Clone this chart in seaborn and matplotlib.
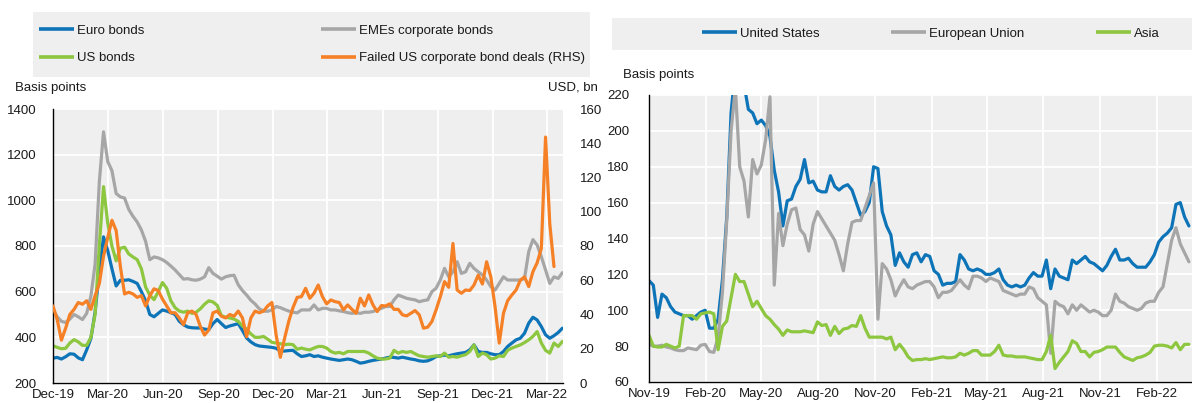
import numpy as np
import pandas as pd
import matplotlib
matplotlib.use("Agg")
import matplotlib.pyplot as plt
import matplotlib.dates as mdates
from matplotlib.lines import Line2D
from matplotlib.patches import Rectangle
import seaborn as sns

sns.set_theme(style="white")
plt.rcParams["font.family"] = ["Liberation Sans", "DejaVu Sans"]

# ---------------- Left panel: weekly spreads (bp) and failed deals (USD bn) ----------------
left_start = "2019-12-01"

euro_bonds = [
    309, 312, 305, 315, 328, 326, 310, 302, 345, 395,
    510, 690, 840, 780, 700, 625, 650, 650, 652, 645,
    636, 600, 560, 500, 490, 505, 520, 515, 508, 500,
    470, 455, 445, 442, 441, 441, 436, 434, 460, 478,
    460, 443, 450, 455, 460, 430, 397, 380, 368, 362,
    360, 358, 356, 352, 340, 340, 342, 343, 328,
    316, 319, 324, 316, 319, 313, 309, 305, 302, 299,
    302, 305, 302, 295, 287, 290, 295, 299, 302, 305,
    309, 313, 312, 309, 313, 309, 305, 302, 297, 295,
    297, 305, 316, 319, 322, 319, 324, 328, 331, 334,
    345, 367, 338, 334, 334, 328, 324, 324, 338, 360,
    375, 389, 396, 418, 462, 488, 476, 447, 411, 396,
    407, 421, 440,
]

eme_corporate_bonds = [
    521, 490, 470, 465, 480, 500, 490, 478, 505, 580,
    720, 1080, 1300, 1170, 1130, 1030, 1015, 1010, 960, 930,
    905, 870, 820, 740, 752, 748, 740, 728, 712, 695,
    675, 655, 657, 652, 650, 655, 665, 705, 680, 668,
    655, 665, 670, 672, 630, 605, 585, 562, 546, 525,
    515, 514, 520, 535, 530, 522, 515, 510, 507,
    520, 520, 520, 542, 520, 527, 527, 520, 520, 516,
    513, 508, 505, 508, 505, 510, 510, 513, 520, 527,
    535, 535, 564, 585, 578, 571, 567, 564, 556, 561,
    564, 600, 615, 651, 702, 665, 687, 731, 680, 687,
    724, 702, 687, 673, 651, 622, 607, 636, 665, 651,
    651, 651, 651, 658, 775, 828, 804, 753, 695, 636,
    665, 658, 683,
]

us_bonds = [
    363, 356, 350, 352, 375, 390, 380, 365, 365, 400,
    500, 800, 1060, 900, 800, 735, 790, 795, 765, 752,
    740, 700, 620, 585, 565, 600, 640, 615, 560, 530,
    515, 510, 515, 505, 510, 525, 545, 560, 555, 540,
    495, 488, 485, 480, 470, 450, 435, 415, 400, 400,
    404, 392, 378, 375, 372, 368, 370, 368, 348,
    353, 348, 345, 353, 360, 360, 353, 338, 331, 334,
    328, 338, 338, 338, 338, 338, 331, 319, 309, 305,
    305, 309, 343, 331, 338, 334, 338, 328, 319, 316,
    313, 316, 319, 316, 331, 313, 316, 313, 319, 324,
    338, 367, 316, 331, 324, 305, 309, 319, 316, 343,
    353, 360, 367, 377, 389, 404, 425, 375, 343, 331,
    375, 360, 382,
]

failed_us_deals = [
    45, 37, 25, 32, 40, 43, 47, 46, 48, 43,
    51, 58, 74, 85, 95, 89, 68, 52, 53, 52,
    50, 51, 45, 51, 55, 54, 49, 45, 41, 41,
    38, 34, 41, 42, 40, 33, 28, 31, 41, 42,
    39, 38, 40, 39, 42, 38, 27, 38, 42, 41,
    42, 45, 47, 28, 15, 26, 36, 44, 50,
    50.4, 55.3, 49.5, 52.4, 57.2, 50.4, 46.2, 48.5, 47.5, 47,
    42.7, 45.6, 43, 40.7, 49.5, 45, 51.4, 45.6, 41.7, 45.2,
    45, 46.2, 43, 43, 39.8, 39.2, 40.7, 42.3, 39.8, 32,
    32.6, 35.9, 42.7, 50.4, 59.2, 55.9, 81.5, 54.3, 52.4, 54.3,
    54, 57.2, 63, 57.8, 70.8, 62, 44.6, 23.3, 40.7, 48.1,
    51.4, 54.3, 60, 62, 56.3, 65, 70.2, 78.6, 143.6, 93,
    68, np.nan, np.nan,
]

left_labels = ["Euro bonds", "EMEs corporate bonds", "US bonds",
               "Failed US corporate bond deals (RHS)"]

# ---------------- Right panel: weekly spreads by region (bp) ----------------
right_start = "2019-11-01"

united_states = [
    116.5, 114, 96, 109, 107, 102, 99, 98, 97, 97,
    95, 97, 99, 100, 90, 90, 95, 117, 152, 210,
    235, 240, 226, 212, 210, 204, 206, 203, 197, 178,
    166, 147, 161, 162, 169, 173, 184, 171, 172, 167,
    166, 166, 175, 169, 167, 169, 170, 167, 160, 153,
    155, 160, 180, 179, 155, 147, 142, 125, 132, 127,
    124, 131, 132, 127, 131, 130, 122, 120, 114, 115,
    115, 116, 131, 128, 123, 122, 123, 122, 120, 120,
    121, 123, 117, 114, 113, 114, 113, 114, 118, 121,
    119, 119, 128, 112, 123, 119, 118, 117, 128, 126,
    128, 130, 127, 126, 124, 122, 125, 130, 134, 128,
    128, 129, 126, 124, 124, 124, 127, 131, 138, 141,
    143, 146, 159, 160, 152, 147,
]

european_union = [
    81, 80, 80, 80.5, 79.5, 79, 78, 77.5, 77.5, 79,
    78.5, 78, 80.5, 81, 77, 76.5, 85, 110, 150, 200,
    224, 180, 172, 152, 184, 176, 181, 195, 219, 114,
    154, 136, 148, 156, 157, 145, 142, 133, 148, 155,
    151, 147, 143, 139, 131, 122, 137, 149, 150, 150,
    157, 164, 171, 95, 126, 123, 117, 108, 113, 117,
    113, 112, 114, 115, 116, 116, 113, 107, 110, 110,
    111, 114, 117, 114, 112, 119, 119, 118, 116, 118,
    117, 116, 111, 110, 109, 108, 109, 109, 113, 112,
    107, 105, 103, 76, 105, 103, 102, 98, 103, 100,
    103, 101, 99, 100, 99, 97, 97, 100, 109, 105,
    104, 102, 101, 100, 101, 104, 105, 105, 110, 113,
    126, 139, 146, 137, 132, 127,
]

asia = [
    86, 80, 79.5, 79.5, 81, 80, 79, 80, 97, 97,
    97, 95, 98, 98.5, 99, 98, 78, 91, 94, 107,
    120, 116, 116, 109, 102, 105, 101, 97, 95, 92,
    89.5, 86, 89, 88, 88, 88, 88.5, 88, 87.5, 93.5,
    91.5, 92, 86, 91, 87, 89.5, 90, 91.5, 91, 97,
    90, 85, 85, 85, 85, 84, 85, 78, 81, 78,
    74, 72, 72.5, 72.5, 73, 72.5, 73, 73.5, 74, 73.5,
    73.5, 74, 76, 75, 76, 77.5, 77.5, 75, 75, 75,
    77, 80.5, 75, 74.5, 74.5, 74, 74, 74, 73.5, 73,
    72.5, 72.5, 77, 86, 67.5, 71, 74, 77, 83, 81.5,
    77, 77, 74, 76.5, 77, 78, 79.5, 79.5, 79.5, 76.5,
    74, 73, 72, 73.5, 74, 75, 76.5, 80, 80.5, 80.5,
    80, 79, 82, 78, 81, 81,
]

right_labels = ["United States", "European Union", "Asia"]

# ---------------- Styling ----------------
BLUE = "#0E74B8"
GREY = "#A6A6A6"
GREEN = "#8DC63F"
ORANGE = "#F58025"
PANEL_BG = "#EFEFEF"
TEXT = "#1A1A1A"
FS = 9.5
LW = 2.3

W, H = 1192, 403
fig = plt.figure(figsize=(W / 100, H / 100), dpi=100)
fig.patch.set_facecolor("white")


def fx(px):
    return px / W


def fy(py):
    return 1 - py / H


left_dates = pd.date_range(left_start, periods=len(euro_bonds), freq="7D")
right_dates = pd.date_range(right_start, periods=len(united_states), freq="7D")


def style_axes(ax):
    ax.set_facecolor(PANEL_BG)
    ax.grid(True, color="white", linewidth=1.3)
    ax.set_axisbelow(True)
    for side in ("top", "right"):
        ax.spines[side].set_visible(False)
    for side in ("left", "bottom"):
        ax.spines[side].set_color("black")
        ax.spines[side].set_linewidth(1.0)
    ax.tick_params(axis="x", direction="in", length=5, width=1, color="black",
                   labelsize=FS, labelcolor=TEXT, pad=4)
    ax.tick_params(axis="y", length=0, labelsize=FS, labelcolor=TEXT, pad=12)
    ax.set_xlabel("")
    ax.set_ylabel("")


# ---- left panel ----
axL = fig.add_axes([fx(53), fy(383), fx(510), 274 / H])
sns.lineplot(x=left_dates, y=euro_bonds, ax=axL, color=BLUE, lw=LW, estimator=None, legend=False)
sns.lineplot(x=left_dates, y=eme_corporate_bonds, ax=axL, color=GREY, lw=LW, estimator=None, legend=False)
sns.lineplot(x=left_dates, y=us_bonds, ax=axL, color=GREEN, lw=LW, estimator=None, legend=False)
axL.set_ylim(200, 1400)
axL.set_yticks(np.arange(200, 1401, 200))
axL.set_xlim(pd.Timestamp(left_start), pd.Timestamp(left_start) + pd.Timedelta(days=848))
axL.xaxis.set_major_locator(mdates.MonthLocator(bymonth=[3, 6, 9, 12]))
axL.xaxis.set_major_formatter(mdates.DateFormatter("%b-%y"))
style_axes(axL)

axR2 = axL.twinx()
sns.lineplot(x=left_dates, y=failed_us_deals, ax=axR2, color=ORANGE, lw=LW, estimator=None, legend=False)
axR2.set_ylim(0, 160)
axR2.set_yticks(np.arange(0, 161, 20))
for s in axR2.spines.values():
    s.set_visible(False)
axR2.tick_params(axis="y", length=0, labelsize=FS, labelcolor=TEXT, pad=12)
axR2.set_ylabel("")
axR2.grid(False)

fig.text(fx(15), fy(88), "Basis points", ha="left", va="center", fontsize=FS, color=TEXT)
fig.text(fx(598), fy(88), "USD, bn", ha="right", va="center", fontsize=FS, color=TEXT)

# ---- right panel ----
axB = fig.add_axes([fx(649), fy(382), (W - 649) / W, 287 / H])
sns.lineplot(x=right_dates, y=united_states, ax=axB, color=BLUE, lw=LW, estimator=None, legend=False)
sns.lineplot(x=right_dates, y=european_union, ax=axB, color=GREY, lw=LW, estimator=None, legend=False)
sns.lineplot(x=right_dates, y=asia, ax=axB, color=GREEN, lw=LW, estimator=None, legend=False)
axB.set_ylim(60, 220)
axB.set_yticks(np.arange(60, 221, 20))
axB.set_xlim(pd.Timestamp(right_start), pd.Timestamp(right_start) + pd.Timedelta(days=880))
axB.xaxis.set_major_locator(mdates.MonthLocator(bymonth=[2, 5, 8, 11]))
axB.xaxis.set_major_formatter(mdates.DateFormatter("%b-%y"))
style_axes(axB)
axB.tick_params(axis="y", pad=14)

fig.text(fx(623), fy(75), "Basis points", ha="left", va="center", fontsize=FS, color=TEXT)

# ---- legends ----
fig.patches.append(Rectangle((fx(33), fy(77)), fx(590 - 33), 65 / H, transform=fig.transFigure,
                             facecolor=PANEL_BG, edgecolor="none", zorder=0))
left_colors = {"Euro bonds": BLUE, "EMEs corporate bonds": GREY, "US bonds": GREEN,
               "Failed US corporate bond deals (RHS)": ORANGE}
order = ["Euro bonds", "US bonds", "EMEs corporate bonds", "Failed US corporate bond deals (RHS)"]
handles = [Line2D([], [], color=left_colors[k], lw=LW + 0.3, solid_capstyle="butt") for k in order]
fig.legend(handles, order, ncol=2, mode="expand", loc="center",
           bbox_to_anchor=(fx(39), fy(77), fx(585 - 39), 65 / H),
           frameon=False, borderaxespad=0, borderpad=0, fontsize=FS,
           handlelength=2.65, handletextpad=0.25, labelspacing=1.15, labelcolor=TEXT)

fig.patches.append(Rectangle((fx(612), fy(50)), fx(W - 612), 32 / H, transform=fig.transFigure,
                             facecolor=PANEL_BG, edgecolor="none", zorder=0))
right_colors = [BLUE, GREY, GREEN]
handles_r = [Line2D([], [], color=c, lw=LW + 0.3, solid_capstyle="butt") for c in right_colors]
fig.legend(handles_r, right_labels, ncol=3, loc="center", bbox_to_anchor=(fx(931), fy(34)),
           frameon=False, borderaxespad=0, borderpad=0, fontsize=FS,
           handlelength=2.65, handletextpad=0.25, columnspacing=5.4, labelcolor=TEXT)

fig.savefig("out.png", dpi=100, facecolor="white")
